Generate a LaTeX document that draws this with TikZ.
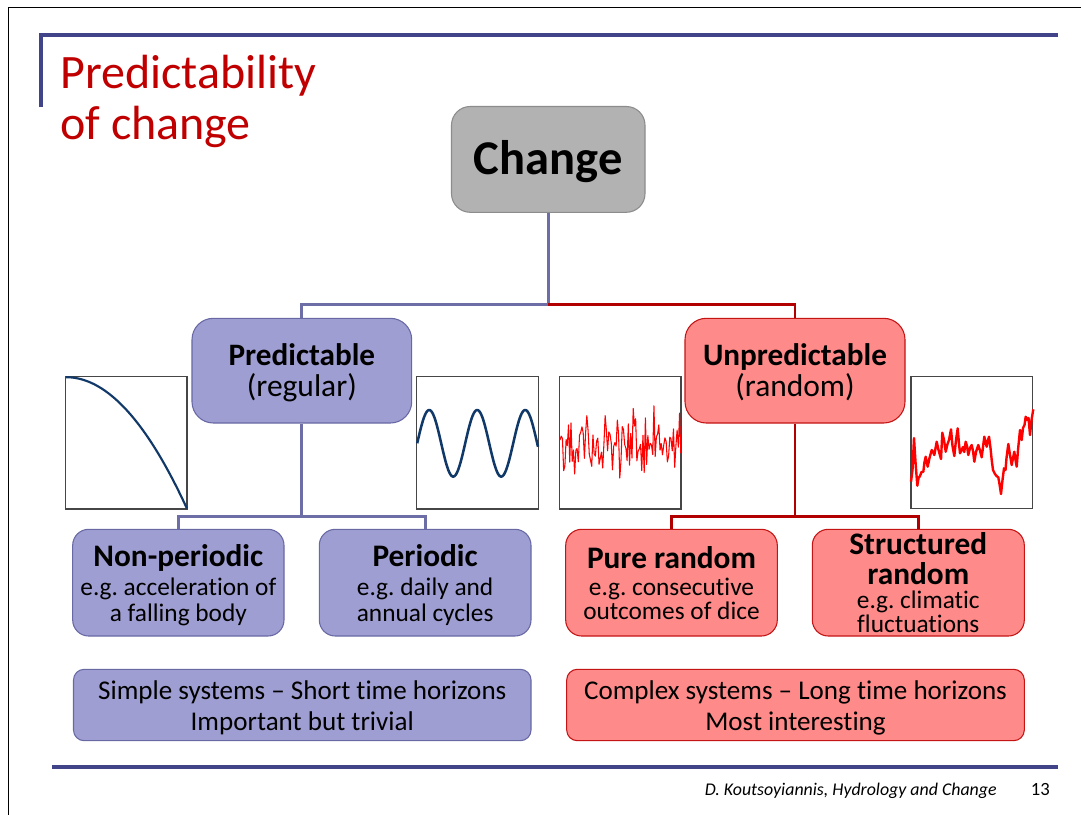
\documentclass[tikz,border=0pt]{standalone}
\usepackage{fontspec}
\setmainfont{Carlito}[Ligatures=NoCommon]
\usetikzlibrary{fit}
\frenchspacing
\definecolor{titlered}{RGB}{192,0,0}
\definecolor{slate}{RGB}{66,68,138}
\definecolor{predfill}{RGB}{158,158,210}
\definecolor{predborder}{RGB}{104,104,164}
\definecolor{blueconn}{RGB}{110,110,166}
\definecolor{redfill}{RGB}{255,138,138}
\definecolor{redborder}{RGB}{196,20,20}
\definecolor{redconn}{RGB}{178,0,0}
\definecolor{chgfill}{RGB}{178,178,178}
\definecolor{chgborder}{RGB}{140,140,140}
\definecolor{curveblue}{RGB}{16,56,104}
\definecolor{plotframe}{RGB}{70,70,70}
\begin{document}
\begin{tikzpicture}[x=0.75pt,y=-0.75pt,
  box/.style={inner sep=0pt, line width=0.8pt, rounded corners=12pt},
  chgbox/.style={box, fill=chgfill, draw=chgborder},
  pbox/.style={box, fill=predfill, draw=predborder},
  rbox/.style={box, fill=redfill, draw=redborder},
  lowbox/.style={rounded corners=8pt},
  bconn/.style={draw=blueconn, line width=2.2pt},
  rconn/.style={draw=redconn, line width=2.2pt},
  slideline/.style={draw=slate, line width=3pt},
  plotbox/.style={draw=plotframe, line width=0.8pt, fill=white},
  titletext/.style={anchor=base west, text=titlered, inner sep=0pt, font=\fontsize{36}{36}\selectfont},
  bigbold/.style={anchor=base, inner sep=0pt, font=\fontsize{23.4}{24}\selectfont\bfseries},
  bigreg/.style={anchor=base, inner sep=0pt, font=\fontsize{23.6}{24}\selectfont},
  lowbold/.style={anchor=base, inner sep=0pt, font=\fontsize{23.5}{24}\selectfont\bfseries},
  lowsub/.style={anchor=base, inner sep=0pt, font=\fontsize{19}{19}\selectfont},
  bottomtext/.style={anchor=base, inner sep=0pt, font=\fontsize{20.3}{20}\selectfont},
]
\useasboundingbox (0,0) rectangle (1081,814);
\fill[white] (0,0) rectangle (1081,814);
% slide frame
\draw[black, line width=0.8pt] (8.3,820) -- (8.3,7.3) -- (1090,7.3);
% title decoration
\draw[slideline] (40.5,107) -- (40.5,34.5) -- (1058,34.5);
\draw[slideline] (52,767) -- (1058,767);
% title
\node[titletext] (title1) at (60,88) {Predictability};
\node[titletext] (title2) at (60,139) {of change};

% boxes
\node[chgbox, rounded corners=14pt, fit={(451.5,106.5) (645,212.3)}] (change) {};
\node[pbox, rounded corners=16pt, fit={(192,318.3) (411.7,423)}] (pred) {};
\node[rbox, rounded corners=16pt, fit={(685,318.3) (905,423)}] (unpred) {};
\node[pbox, fit={(72.7,529.3) (284,636)}] (nonp) {};
\node[pbox, fit={(319.3,529.3) (531,636)}] (per) {};
\node[rbox, fit={(565.7,529.3) (777.3,636)}] (pure) {};
\node[rbox, fit={(812.3,529.3) (1024.3,636)}] (struct) {};
\node[pbox, lowbox, fit={(73.5,669.3) (531,740.7)}] (simple) {};
\node[rbox, lowbox, fit={(566.7,669.3) (1024.3,740.7)}] (complex) {};

% box texts
\node[anchor=base, inner sep=0pt, font=\fontsize{36.4}{36}\selectfont\bfseries] (change-t) at (548.3,174.5) {Change};
\node[bigbold] (pred-t1) at (pred.center |- 0,365.5) {Predictable};
\node[bigreg] (pred-t2) at (pred.center |- 0,396) {(regular)};
\node[bigbold] (unpred-t1) at (unpred.center |- 0,365.5) {Unpredictable};
\node[bigreg] (unpred-t2) at (unpred.center |- 0,396) {(random)};

\node[lowbold] (nonp-t1) at (nonp.center |- 0,566) {Non-periodic};
\node[lowsub] (nonp-t2) at (nonp.center |- 0,595) {e.g. acceleration of};
\node[lowsub] (nonp-t3) at (nonp.center |- 0,621) {a falling body};
\node[lowbold] (per-t1) at (per.center |- 0,566) {Periodic};
\node[lowsub] (per-t2) at (per.center |- 0,595) {e.g. daily and};
\node[lowsub] (per-t3) at (per.center |- 0,621) {annual cycles};
\node[lowbold] (pure-t1) at (pure.center |- 0,568) {Pure random};
\node[lowsub] (pure-t2) at (pure.center |- 0,595) {e.g. consecutive};
\node[lowsub] (pure-t3) at (pure.center |- 0,619.5) {outcomes of dice};
\node[lowbold] (struct-t1) at (struct.center |- 0,554) {Structured};
\node[lowbold] (struct-t2) at (struct.center |- 0,584) {random};
\node[lowsub] (struct-t3) at (struct.center |- 0,608) {e.g. climatic};
\node[lowsub] (struct-t4) at (struct.center |- 0,632) {fluctuations};

\node[bottomtext] (simple-t1) at (simple.center |- 0,699) {Simple systems – Short time horizons};
\node[bottomtext] (simple-t2) at (simple.center |- 0,730.5) {Important but trivial};
\node[bottomtext] (complex-t1) at (complex.center |- 0,699) {Complex systems – Long time horizons};
\node[bottomtext] (complex-t2) at (complex.center |- 0,730.5) {Most interesting};

% connectors
\draw[bconn] (change.south) -- ++(0,92) coordinate (j0);
\draw[bconn] (j0) -| (pred.north);
\draw[rconn] (j0) -| (unpred.north);
\draw[bconn] (pred.south) -- ++(0,93) coordinate (j1);
\draw[bconn] (j1) -| (nonp.north);
\draw[bconn] (j1) -| (per.north);
\draw[rconn] (unpred.south) -- ++(0,93) coordinate (j2);
\draw[rconn] (j2) -| (pure.north);
\draw[rconn] (j2) -| (struct.north);

% plot 1: falling body
\draw[plotbox] (65.5,376.7) rectangle (187,509);
\draw[curveblue, line width=1.6pt, line join=round]
  plot[domain=0:1, samples=60] ({66.2+120.8*\x},{377.2+131.5*\x*\x});
% plot 2: periodic
\draw[plotbox] (416.7,376.7) rectangle (538.3,509);
\draw[curveblue, line width=1.9pt, line join=round]
  plot[domain=417.2:538, samples=140] (\x,{443.3-33.3*sin((\x-417.2)/48*360)});
% plot 3: pure random
\draw[plotbox] (559.3,376.7) rectangle (681,509);
\pgfmathsetseed{11}
\draw[red, line width=0.8pt, line join=round] (560,440)
  \foreach \i in {1,...,99} { -- ({560+\i*1.22},{446+16*(rand+rand+rand)}) };
% plot 4: structured random
\draw[plotbox] (911,376.7) rectangle (1032.3,508.3);
\draw[red, line width=1.8pt, line join=round]
 (911,481.7) -- (912.5,470) -- (914,438) -- (915.5,462) -- (917.3,485.7) -- (918.6,478)
 -- (920,476) -- (921.5,472) -- (923.3,471.7) -- (924.5,462) -- (925.7,456.7) -- (927.7,466.7)
 -- (929.5,458) -- (931.7,450) -- (933,452) -- (934.3,455) -- (936.7,441.7) -- (938.5,450)
 -- (941,459) -- (942.3,432.7) -- (944,440) -- (945.7,451.7) -- (947.5,444) -- (949,440)
 -- (951,429.3) -- (952.5,446) -- (954.3,456) -- (956,440) -- (957.7,428.3) -- (959,444)
 -- (960,453.3) -- (961.5,450) -- (963,447) -- (964.2,452) -- (965.7,441.7) -- (967,446)
 -- (968.3,455) -- (970,448) -- (971.7,445) -- (973,451) -- (974.3,461.7) -- (976,452)
 -- (978.3,445) -- (979.8,450) -- (981.7,457.3) -- (983,447) -- (984.3,436.7) -- (985.5,442)
 -- (986.7,446.7) -- (988,440) -- (989,436.7) -- (990.5,448) -- (991.7,460) -- (993,470)
 -- (995,474) -- (996.5,476) -- (998.3,477.3) -- (999.5,484) -- (1001,494) -- (1002.5,480)
 -- (1004,468.3) -- (1005.5,470) -- (1006.5,458) -- (1008.3,444) -- (1010,455) -- (1011.7,465)
 -- (1013,458) -- (1014.3,451.7) -- (1015.5,460) -- (1016.7,466.7) -- (1018,450) -- (1020,430)
 -- (1021,436) -- (1021.7,440) -- (1023,428) -- (1024.5,425) -- (1025.7,416.7) -- (1027,420)
 -- (1028.5,418) -- (1030,435) -- (1031.5,420) -- (1033.3,409.3);

% footer
\node[anchor=base east, inner sep=0pt, font=\fontsize{13.4}{14}\selectfont\itshape] (footer) at (997,795) {D. Koutsoyiannis, Hydrology and Change};
\node[anchor=base east, inner sep=0pt, font=\fontsize{14}{14}\selectfont] (pagenum) at (1050,795) {13};
\end{tikzpicture}
\end{document}
